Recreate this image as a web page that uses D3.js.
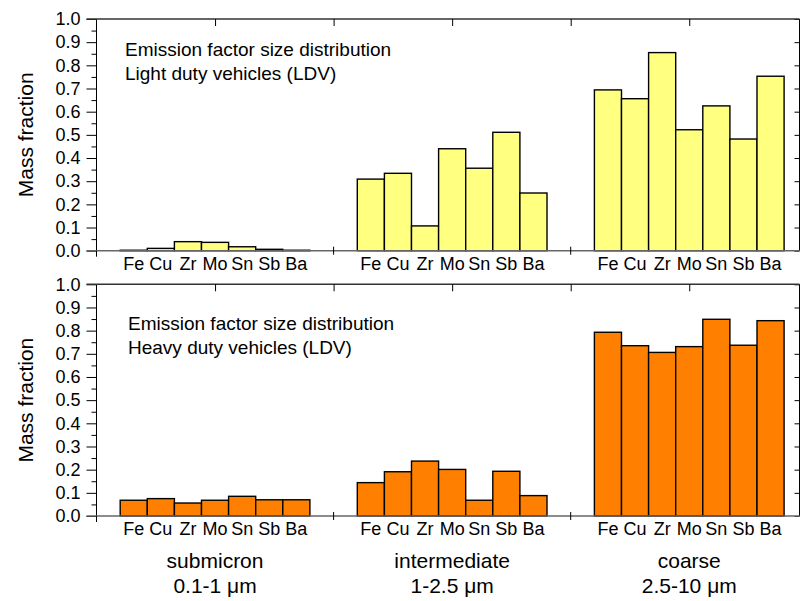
<!DOCTYPE html>
<html>
<head>
<meta charset="utf-8">
<script src="https://cdn.jsdelivr.net/npm/d3@7"></script>
<style>
  body { margin: 0; background: #fff; }
  svg { display: block; font-family: "Liberation Sans", Arial, sans-serif; }
</style>
</head>
<body>
<svg id="chart" width="800" height="601"></svg>
<script>
// Data
const elements = ["Fe", "Cu", "Zr", "Mo", "Sn", "Sb", "Ba"];
const sizeBins = ["submicron", "intermediate", "coarse"];
const sizeRanges = ["0.1-1 \u03bcm", "1-2.5 \u03bcm", "2.5-10 \u03bcm"];
const yTicks = [0, 0.1, 0.2, 0.3, 0.4, 0.5, 0.6, 0.7, 0.8, 0.9, 1.0];

// light duty vehicles, one row per size bin
const ldvValues = [
    [0.002, 0.010, 0.039, 0.036, 0.017, 0.006, 0.002],
    [0.309, 0.334, 0.107, 0.440, 0.356, 0.511, 0.249],
    [0.694, 0.656, 0.855, 0.522, 0.625, 0.482, 0.753]
];
// heavy duty vehicles
const hdvValues = [
    [0.068, 0.075, 0.056, 0.068, 0.085, 0.070, 0.070],
    [0.144, 0.191, 0.237, 0.201, 0.068, 0.193, 0.088],
    [0.793, 0.735, 0.706, 0.731, 0.849, 0.737, 0.843]
];

const svg = d3.select("#chart");

// x positions: group centres at 1, 3, 5
const x = d3.scaleLinear().domain([0, 5.93]).range([96.5, 799.5]);
const barW = 0.2286;
const groupCenters = [1, 3, 5];

const panels = [
    {values: ldvValues, color: "#FFFF80", top: 19, bottom: 250.7,
     note: ["Emission factor size distribution", "Light duty vehicles (LDV)"], noteX: 125, noteY: 56},
    {values: hdvValues, color: "#FF8000", top: 284.3, bottom: 516,
     note: ["Emission factor size distribution", "Heavy duty vehicles (LDV)"], noteX: 128, noteY: 330}
];

panels.forEach(p => {
    const y = d3.scaleLinear().domain([0, 1]).range([p.bottom, p.top]);
    const g = svg.append("g");

    // bars
    p.values.forEach((row, gi) => {
        g.selectAll(null)
            .data(row)
            .enter()
            .append("rect")
            .attr("x", (d, i) => x(groupCenters[gi] + (i - 3.5) * barW))
            .attr("width", x(barW) - x(0))
            .attr("y", d => y(d))
            .attr("height", d => y(0) - y(d))
            .attr("fill", p.color)
            .attr("stroke", "#000")
            .attr("stroke-width", 1.4);

        // element names under each bar
        g.selectAll(null)
            .data(elements)
            .enter()
            .append("text")
            .attr("x", (d, i) => x(groupCenters[gi] + (i - 3) * barW))
            .attr("y", p.bottom + 19)
            .attr("text-anchor", "middle")
            .attr("font-size", 18)
            .attr("fill", "#000")
            .text(d => d);
    });

    // left axis, major + minor ticks outward
    const minor = d3.range(0.05, 1, 0.1);
    g.append("g")
        .attr("transform", `translate(${x(0)},0)`)
        .call(d3.axisLeft(y).tickValues(minor).tickSize(5).tickFormat(""))
        .call(a => a.select(".domain").remove());
    const left = g.append("g")
        .attr("transform", `translate(${x(0)},0)`)
        .call(d3.axisLeft(y).tickValues(yTicks).tickSize(10).tickPadding(6).tickFormat(d3.format(".1f")));
    left.select(".domain").attr("d", `M0,${p.bottom}V${p.top}`);
    left.selectAll("text").attr("font-size", 18).attr("font-family", "Liberation Sans, Arial, sans-serif").attr("fill", "#000");

    // right axis, ticks inward
    const right = g.append("g")
        .attr("transform", `translate(${x.range()[1]},0)`)
        .call(d3.axisLeft(y).tickValues(yTicks).tickSize(5).tickFormat(""));
    right.select(".domain").attr("d", `M0,${p.bottom}V${p.top}`);

    // top frame with ticks pointing down
    const topAx = g.append("g")
        .attr("transform", `translate(0,${p.top})`)
        .call(d3.axisBottom(x).tickValues([1, 2, 3, 4, 5]).tickSize(7).tickFormat(""));
    topAx.select(".domain").attr("d", `M${x.range()[0] - 10},0H${x.range()[1]}`).attr("stroke", "#333").attr("stroke-width", 1.5);

    // bottom axis line (grey)
    g.append("line")
        .attr("x1", x.range()[0] - 10).attr("x2", x.range()[1])
        .attr("y1", p.bottom).attr("y2", p.bottom)
        .attr("stroke", "#666").attr("stroke-width", 1.6);
    // boundary ticks crossing the axis
    g.selectAll(null)
        .data([2, 4])
        .enter()
        .append("line")
        .attr("x1", d => x(d)).attr("x2", d => x(d))
        .attr("y1", p.bottom - 4).attr("y2", p.bottom + 4)
        .attr("stroke", "#000");
    g.append("line")
        .attr("x1", x(0)).attr("x2", x(0))
        .attr("y1", p.bottom).attr("y2", p.bottom + 6)
        .attr("stroke", "#000");

    // y label
    g.append("text")
        .attr("transform", `translate(33,${(p.top + p.bottom) / 2}) rotate(-90)`)
        .attr("text-anchor", "middle")
        .attr("font-size", 21)
        .text("Mass fraction");

    // annotation
    g.selectAll(null)
        .data(p.note)
        .enter()
        .append("text")
        .attr("x", p.noteX)
        .attr("y", (d, i) => p.noteY + i * 24)
        .attr("font-size", 19)
        .text(d => d);
});

// size bin labels
svg.selectAll(".bin")
    .data(sizeBins)
    .enter()
    .append("text")
    .attr("x", (d, i) => x(groupCenters[i]))
    .attr("y", 568)
    .attr("text-anchor", "middle")
    .attr("font-size", 21)
    .text(d => d);
svg.selectAll(".range")
    .data(sizeRanges)
    .enter()
    .append("text")
    .attr("x", (d, i) => x(groupCenters[i]))
    .attr("y", 593)
    .attr("text-anchor", "middle")
    .attr("font-size", 21)
    .text(d => d);
</script>
</body>
</html>
